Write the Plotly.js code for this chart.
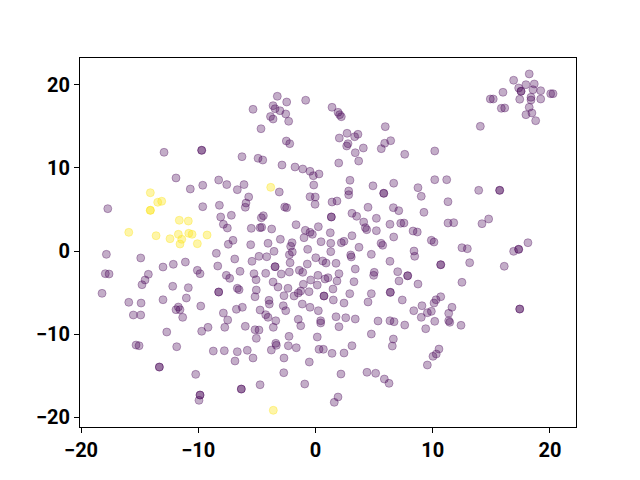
<!DOCTYPE html>
<html>
<head>
<meta charset="utf-8">
<script src="https://cdn.plot.ly/plotly-3.0.1.min.js"></script>
<style>html,body{margin:0;padding:0;background:#fff;}#chart{width:640px;height:480px;}</style>
</head>
<body>
<div id="chart"></div>
<script>
// Class 0 (purple) points
var class0X = [
-12.92,-9.71,-9.71,-11.90,-3.26,-2.46,-0.84,-5.33,-3.62,-3.45,-3.03,-2.54,-3.84,-3.62,-2.29,-4.65,-2.49,-2.20,-6.27,-4.90,-4.50,-2.86,-1.75,-1.09,-0.47,-0.19,0.30,-8.26,-7.57,-6.10,-0.15,
1.41,1.92,2.06,2.20,5.95,2.69,3.62,3.34,2.03,2.77,2.66,6.41,5.90,5.61,4.08,3.39,7.61,10.17,1.98,3.68,2.94,4.90,6.67,10.17,11.19,
18.23,16.90,17.95,18.66,17.33,17.53,17.53,18.55,19.21,15.99,20.06,20.26,14.91,15.16,17.42,18.38,18.38,19.21,15.85,16.14,18.23,17.95,18.46,18.78,14.06,
-17.72,-10.68,-9.62,-9.62,-17.84,-14.91,-17.93,-17.61,-14.26,-14.54,-14.80,-13.01,-12.13,-11.10,-10.08,-9.85,-12.18,-10.85,-18.21,-15.93,-14.88,-13.01,-11.02,-11.70,-9.79,
-6.67,-3.09,-0.47,-0.02,-8.20,-5.70,-5.93,-5.99,-2.63,-2.46,-0.04,-8.09,-7.18,-4.45,-4.62,-7.86,-7.52,-5.48,-4.73,-4.59,-3.74,-1.66,-0.87,-0.47,-0.27,-0.98,0.24,0.47,-3.00,-2.00,-2.12,
-7.04,-7.44,-5.53,-4.05,-3.54,-1.98,-2.23,-0.67,0.02,0.61,0.90,-8.46,-6.89,-5.42,-4.82,-4.16,-2.17,-0.70,-8.34,-3.45,-3.45,-2.23,-1.38,-1.09,-6.44,-5.25,-5.07,-7.61,-7.32,-4.25,-2.92,
0.21,-0.41,0.81,-3.62,-3.20,-2.35,-1.04,-1.26,-1.47,-0.55,-8.26,-8.26,-6.67,-6.52,-5.05,-5.16,-3.97,-2.69,-1.83,0.72,0.72,0.15,
8.74,9.02,11.30,2.83,2.83,5.82,5.82,1.41,1.83,4.48,6.64,7.10,9.25,1.35,1.35,3.11,3.51,4.11,5.19,4.25,4.37,5.19,6.35,7.27,7.55,8.32,8.68,11.30,11.79,6.67,1.26,3.11,2.43,2.20,1.30,9.88,10.11,
5.59,5.73,3.71,1.30,3.00,3.05,4.76,8.40,8.46,6.35,1.75,10.68,10.68,3.39,5.01,4.96,7.01,2.00,1.83,7.86,7.86,7.12,8.74,3.28,1.07,1.49,2.92,6.38,6.38,4.76,7.40,1.52,4.48,10.68,10.28,10.11,9.08,
13.92,15.71,15.71,14.20,14.77,12.49,12.95,16.90,17.33,17.33,18.12,13.15,16.10,12.49,17.42,17.42,
-15.54,-14.91,-11.90,-11.56,-11.33,-12.69,-9.71,-15.31,-15.05,-11.84,-13.32,-13.32,-10.22,-9.85,-9.85,-9.94,
-7.86,-6.75,-6.24,-7.49,-7.74,-9.17,-5.99,-4.73,-4.25,-4.05,-3.39,-3.94,-2.75,-2.54,-5.16,-4.82,-5.05,-3.60,-1.13,-0.47,0.24,-1.47,-1.26,0.44,0.44,-2.26,0.15,-3.39,-3.34,-3.77,-2.32,-1.64,0.30,0.67,
-8.72,-7.78,-6.67,-5.82,-5.33,-6.87,-2.69,-0.53,-2.71,-4.73,-6.33,-6.33,-0.92,
2.43,1.75,2.58,3.39,2.00,5.33,6.35,6.70,7.61,8.38,9.54,9.88,9.02,10.17,9.40,11.36,11.36,11.45,11.64,12.41,4.76,6.64,6.55,1.41,2.43,3.11,10.53,10.30,10.02,9.54,2.17,4.39,5.13,5.87,6.27,1.92,1.60
];
var class0Y = [
11.89,12.13,12.13,8.80,18.64,17.95,18.16,17.07,17.51,17.14,16.90,16.51,16.20,15.90,15.63,14.73,13.25,12.93,11.36,11.17,10.96,10.36,10.12,9.88,9.60,9.07,9.28,8.55,8.00,8.00,7.95,
17.31,16.71,16.42,16.18,14.98,14.18,14.06,13.77,13.61,12.93,12.65,13.29,12.98,12.33,12.41,11.84,11.65,12.05,10.60,10.84,8.52,7.85,8.17,8.59,8.59,
21.33,20.57,20.04,20.12,19.64,19.24,19.24,19.43,19.31,19.12,18.95,18.95,18.31,18.31,18.28,18.52,18.19,18.31,17.19,17.23,17.31,16.42,16.63,15.70,15.02,
5.10,7.47,7.92,5.34,-0.40,-0.84,-2.73,-2.77,-2.81,-3.49,-4.06,-1.93,-1.60,-1.33,-2.33,-2.73,-4.25,-4.42,-5.10,-6.18,-6.27,-5.87,-5.66,-6.75,-6.63,
7.39,7.11,6.54,6.51,5.51,6.51,5.78,5.27,5.30,5.22,5.63,4.10,4.30,4.25,4.01,3.22,2.77,2.73,2.81,2.86,2.65,3.17,2.49,2.25,2.01,1.60,2.93,1.12,1.41,1.00,0.57,
1.29,0.81,0.76,0.93,-0.04,-0.12,-0.45,0.20,-0.81,-1.20,-1.45,-0.28,-0.96,-1.24,-0.64,-0.69,-1.41,-1.57,-1.81,-1.89,-1.89,-2.53,-2.33,-2.57,-2.45,-2.73,-3.46,-2.93,-3.29,-2.69,-2.77,
-2.93,-3.49,-3.37,-3.73,-4.34,-4.49,-4.01,-4.82,-5.06,-4.90,-4.94,-4.94,-4.49,-4.66,-4.70,-5.51,-5.94,-5.39,-5.42,-5.42,-5.42,-4.10,
7.63,6.59,5.94,7.23,6.78,6.95,6.95,5.90,6.02,5.27,5.22,4.86,4.66,4.10,4.10,4.54,4.18,3.49,3.94,2.81,2.57,2.45,3.22,3.34,3.37,2.41,2.29,3.37,3.41,1.69,2.20,1.84,1.17,1.00,0.93,1.29,1.08,
0.93,0.69,0.45,-0.08,-0.48,-0.72,-0.40,0.00,-0.64,-1.24,-1.48,-1.65,-1.65,-2.17,-2.57,-2.93,-2.49,-2.73,-3.61,-2.98,-2.98,-3.61,-3.98,-3.70,-3.22,-4.58,-5.14,-4.98,-4.98,-5.14,-5.90,-5.90,-6.14,-5.51,-5.87,-6.27,-6.59,
7.31,7.31,7.31,3.29,3.86,0.40,0.28,-0.04,0.20,0.20,1.00,-1.41,-1.84,-3.77,-6.99,-6.99,
-7.71,-7.71,-7.07,-7.07,-7.99,-9.76,-9.67,-11.33,-11.41,-11.53,-13.98,-13.98,-14.86,-17.35,-17.35,-17.99,
-7.47,-7.02,-6.78,-8.31,-9.19,-9.19,-9.07,-7.11,-7.67,-7.99,-8.40,-6.39,-6.59,-7.19,-9.48,-9.52,-10.52,-9.19,-6.39,-6.78,-7.19,-8.23,-9.00,-8.40,-8.67,-10.28,-10.36,-11.12,-11.36,-11.93,-11.41,-11.65,-11.84,-11.84,
-12.05,-12.01,-12.13,-11.96,-12.89,-13.25,-12.89,-13.37,-14.66,-16.11,-16.63,-16.63,-16.02,
-6.27,-7.92,-8.04,-8.19,-9.12,-8.43,-8.40,-8.52,-8.92,-7.19,-7.43,-7.27,-7.99,-8.47,-9.36,-7.51,-8.40,-8.59,-6.78,-8.95,-10.00,-10.60,-11.45,-12.33,-12.29,-11.41,-11.81,-12.41,-12.69,-13.73,-14.82,-14.61,-14.73,-15.42,-15.94,-17.59,-18.23
];
// Class 1 (yellow) points
var class1X = [-14.09,-13.46,-13.12,-14.09,-14.09,-15.93,-11.62,-10.85,-13.60,-12.41,-11.70,-11.41,-11.56,-10.81,-10.53,-10.08,-9.25,-3.82,-3.60];
var class1Y = [7.02,5.87,5.99,4.90,4.90,2.25,3.70,3.61,1.84,1.48,2.01,1.41,0.84,2.13,2.01,0.88,1.93,7.67,-19.19];

var tickVals = [-20,-10,0,10,20];

var purple = 'rgba(68,1,84,0.32)';
var yellow = 'rgba(253,231,37,0.4)';

var traces = [
  {x: class0X, y: class0Y, type: 'scatter', mode: 'markers', name: '0',
   marker: {size: 8, color: purple, line: {color: purple, width: 1}}, hoverinfo: 'x+y'},
  {x: class1X, y: class1Y, type: 'scatter', mode: 'markers', name: '1',
   marker: {size: 8, color: yellow, line: {color: yellow, width: 1}}, hoverinfo: 'x+y'}
];

var axisCommon = {
  showgrid: false, zeroline: false, showline: true, mirror: true,
  linecolor: '#000', linewidth: 1, ticks: 'outside', ticklen: 5, tickwidth: 1, tickcolor: '#000',
  tickvals: tickVals,
  tickfont: {family: 'Roboto, "DejaVu Sans", sans-serif', size: 20, color: '#000', weight: 'bold'}
};

var layout = {
  width: 640, height: 480,
  margin: {l: 80, r: 64, t: 58, b: 53},
  paper_bgcolor: '#fff', plot_bgcolor: '#fff',
  showlegend: false,
  xaxis: Object.assign({}, axisCommon, {range: [-20.09, 22.22]}),
  yaxis: Object.assign({}, axisCommon, {range: [-21.2, 23.25]})
};

Plotly.newPlot('chart', traces, layout, {staticPlot: true});
</script>
</body>
</html>
